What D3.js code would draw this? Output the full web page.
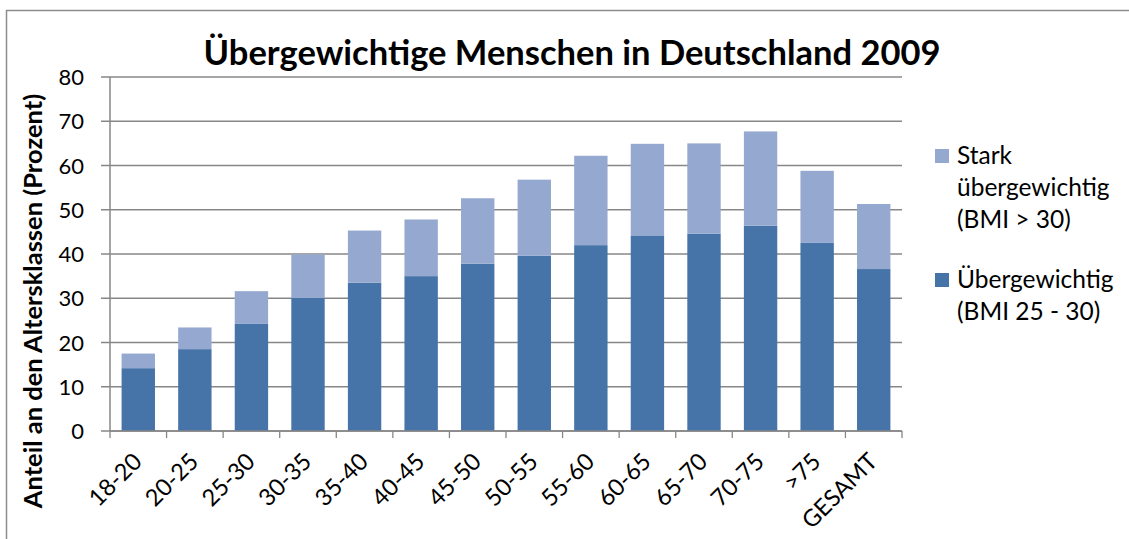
<!DOCTYPE html>
<html>
<head>
<meta charset="utf-8">
<script src="https://cdn.jsdelivr.net/npm/d3@7"></script>
<style>
  body { margin: 0; background: #fff; }
  svg { font-family: Lato, "Open Sans", sans-serif; }
</style>
</head>
<body>
<div id="chart"></div>
<script>
// Data
const categories = ["18-20", "20-25", "25-30", "30-35", "35-40", "40-45", "45-50",
  "50-55", "55-60", "60-65", "65-70", "70-75", ">75", "GESAMT"];
const overweight = [14.2, 18.5, 24.2, 30.1, 33.5, 35.0, 37.8, 39.6, 42.0, 44.2, 44.6, 46.4, 42.6, 36.6];
const obese = [3.3, 4.9, 7.4, 9.8, 11.8, 12.8, 14.8, 17.2, 20.2, 20.7, 20.4, 21.3, 16.2, 14.7];
const yTicks = [0, 10, 20, 30, 40, 50, 60, 70, 80];

const W = 1129, H = 539;
const margin = { top: 77, left: 110, right: 227, bottom: 108 };
const width = W - margin.left - margin.right;
const height = H - margin.top - margin.bottom;

const dark = "#4673a8", light = "#95a9d0";

const root = d3.select("#chart").append("svg")
  .attr("width", W).attr("height", H);

// outer frame
root.append("rect")
  .attr("x", 6.5).attr("y", 10.5)
  .attr("width", W).attr("height", H)
  .attr("fill", "none").attr("stroke", "#8c8c8c").attr("stroke-width", 1.5);

// title
root.append("text")
  .attr("x", 572).attr("y", 65)
  .attr("text-anchor", "middle")
  .attr("font-weight", "bold").attr("font-size", 34.5)
  .text("Übergewichtige Menschen in Deutschland 2009");

const svg = root.append("g")
  .attr("transform", `translate(${margin.left},${margin.top})`);

const x = d3.scaleBand().domain(categories).range([0, width]).paddingInner(0.41).paddingOuter(0.205);
const y = d3.scaleLinear().domain([0, 80]).range([height, 0]);

// gridlines
svg.selectAll("line.grid")
  .data(yTicks)
  .enter().append("line")
    .attr("class", "grid")
    .attr("x1", -9).attr("x2", width)
    .attr("y1", d => y(d)).attr("y2", d => y(d))
    .attr("stroke", "#878787").attr("stroke-width", 1.3);

// y tick labels
svg.selectAll("text.ylab")
  .data(yTicks)
  .enter().append("text")
    .attr("class", "ylab")
    .attr("x", -26).attr("y", d => y(d) + 8)
    .attr("text-anchor", "end").attr("font-size", 22)
    .text(d => d);

// stacked bars
const stacked = categories.map((c, i) => ({ c, a: overweight[i], b: obese[i] }));

svg.selectAll("rect.dark")
  .data(stacked)
  .enter().append("rect")
    .attr("x", d => x(d.c)).attr("width", x.bandwidth())
    .attr("y", d => y(d.a)).attr("height", d => y(0) - y(d.a))
    .attr("fill", dark);

svg.selectAll("rect.light")
  .data(stacked)
  .enter().append("rect")
    .attr("x", d => x(d.c)).attr("width", x.bandwidth())
    .attr("y", d => y(d.a + d.b)).attr("height", d => y(d.a) - y(d.a + d.b))
    .attr("fill", light);

// axes lines
svg.append("line")
  .attr("x1", 0).attr("x2", 0).attr("y1", 0).attr("y2", height)
  .attr("stroke", "#878787").attr("stroke-width", 1.5);

const step = x.step();
svg.selectAll("line.xtick")
  .data(d3.range(categories.length + 1))
  .enter().append("line")
    .attr("x1", i => i * step).attr("x2", i => i * step)
    .attr("y1", height).attr("y2", height + 7)
    .attr("stroke", "#878787").attr("stroke-width", 1.3);

svg.append("line")
  .attr("x1", 0).attr("x2", width).attr("y1", height).attr("y2", height)
  .attr("stroke", "#878787").attr("stroke-width", 1.5);

// x labels
svg.selectAll("text.xlab")
  .data(categories)
  .enter().append("text")
    .attr("text-anchor", "end").attr("font-size", 23.5)
    .attr("transform", d => `translate(${x(d) + x.bandwidth() / 2 + 5},${height + 32}) rotate(-45)`)
    .text(d => d);

// y axis title
root.append("text")
  .attr("transform", "translate(42,301) rotate(-90)")
  .attr("text-anchor", "middle")
  .attr("font-weight", "bold").attr("font-size", 25.5)
  .text("Anteil an den Altersklassen (Prozent)");

// legend
const legend = [
  { color: light, lines: ["Stark", "übergewichtig", "(BMI > 30)"], y: 149 },
  { color: dark, lines: ["Übergewichtig", "(BMI 25 - 30)"], y: 273 }
];
legend.forEach(l => {
  root.append("rect")
    .attr("x", 935).attr("y", l.y).attr("width", 14).attr("height", 14)
    .attr("fill", l.color);
  l.lines.forEach((t, k) => {
    root.append("text")
      .attr("x", 957).attr("y", l.y + 15 + k * 32)
      .attr("font-size", 24.5)
      .text(t);
  });
});
</script>
</body>
</html>
